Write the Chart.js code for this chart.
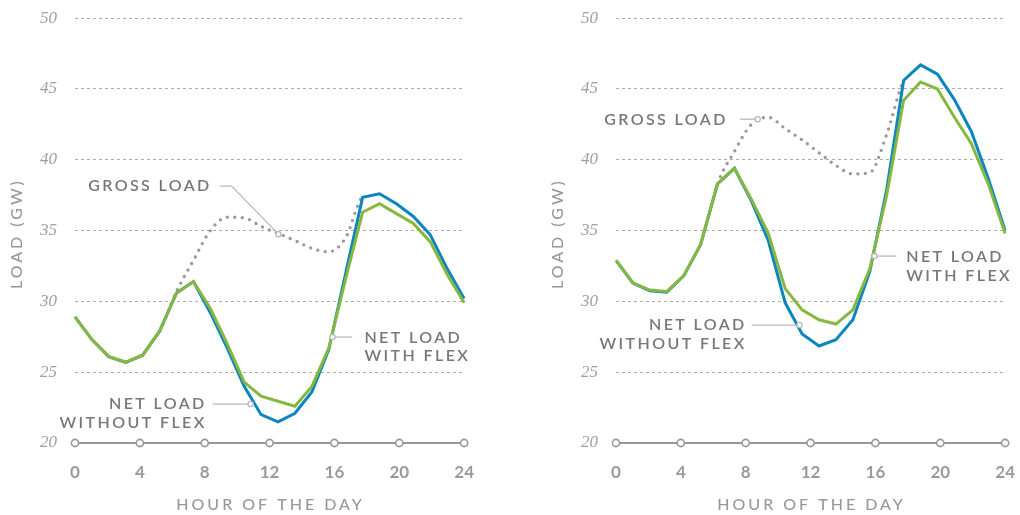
<!DOCTYPE html>
<html>
<head>
<meta charset="utf-8">
<script src="https://cdn.jsdelivr.net/npm/chart.js@4.4.1/dist/chart.umd.min.js"></script>
<style>
  html, body { margin: 0; padding: 0; background: #fff; overflow: hidden; width: 1020px; height: 515px; }
  .box { position: absolute; top: -10px; width: 493px; height: 525px; }
  #boxLeft { left: 0; }
  #boxRight { left: 541px; }
</style>
</head>
<body>
<div class="box" id="boxLeft"><canvas id="chartLeft" width="493" height="525"></canvas></div>
<div class="box" id="boxRight"><canvas id="chartRight" width="493" height="525"></canvas></div>
<script>
// hourly points (24 per day), plotted across the 0-24 axis
const pointLabels = ['1','2','3','4','5','6','7','8','9','10','11','12','13','14','15','16','17','18','19','20','21','22','23','24'];
const hourTicks = [0, 4, 8, 12, 16, 20, 24];
const loadTicks = [20, 25, 30, 35, 40, 45, 50];

// left panel
const leftWithoutFlex = [28.9, 27.3, 26.1, 25.7, 26.2, 27.9, 30.6, 31.4, 29.2, 26.7, 24.0, 22.0, 21.5, 22.1, 23.6, 26.6, 32.0, 37.35, 37.6, 36.9, 36.0, 34.7, 32.3, 30.2];
const leftWithFlex    = [28.9, 27.3, 26.1, 25.7, 26.2, 27.9, 30.6, 31.4, 29.5, 27.0, 24.3, 23.3, 22.95, 22.6, 24.0, 26.7, 31.6, 36.3, 36.9, 36.2, 35.5, 34.2, 31.9, 29.9];
const leftGross       = [28.9, 27.3, 26.1, 25.7, 26.2, 27.9, 30.7, 32.9, 35.0, 35.95, 35.9, 35.3, 34.8, 34.3, 33.75, 33.5, 34.5, 37.35, 37.6, 36.9, 36.0, 34.7, 32.3, 30.2];

// right panel
const rightWithoutFlex = [32.9, 31.3, 30.75, 30.65, 31.8, 34.0, 38.3, 39.4, 37.1, 34.3, 29.9, 27.7, 26.85, 27.3, 28.7, 32.1, 37.9, 45.6, 46.7, 46.05, 44.25, 42.0, 38.7, 35.0];
const rightWithFlex    = [32.9, 31.3, 30.8, 30.7, 31.8, 34.0, 38.3, 39.4, 37.2, 34.8, 30.9, 29.4, 28.7, 28.4, 29.4, 32.3, 37.5, 44.2, 45.5, 45.0, 43.0, 41.15, 38.3, 34.8];
const rightGross       = [32.9, 31.3, 30.8, 30.7, 31.8, 34.0, 38.3, 40.6, 42.5, 43.0, 42.2, 41.4, 40.5, 39.6, 39.0, 39.1, 41.8, 45.6, 46.7, 46.05, 44.25, 42.0, 38.7, 35.0];

const BLUE = '#0b86bf';
const GREEN = '#86b83f';
const GREY_TEXT = '#77777a';
const GREY_AXIS = '#98989b';

// label callouts: text + leader line in (hour, GW)
const leftNotes = [
  { lines: ['GROSS LOAD'], align: 'right', at: [8.43, 38.14], path: [[8.92, 38.14], [9.66, 38.14], [12.55, 34.75]] },
  { lines: ['NET LOAD', 'WITH FLEX'], align: 'left', at: [17.85, 27.45], path: [[17.1, 27.48], [15.88, 27.48]] },
  { lines: ['NET LOAD', 'WITHOUT FLEX'], align: 'right', at: [8.12, 22.75], path: [[8.49, 22.75], [10.83, 22.75]] }
];
const rightNotes = [
  { lines: ['GROSS LOAD'], align: 'right', at: [6.89, 42.8], path: [[7.63, 42.87], [8.74, 42.87]] },
  { lines: ['NET LOAD', 'WITH FLEX'], align: 'left', at: [17.9, 33.13], path: [[17.29, 33.2], [15.94, 33.2]] },
  { lines: ['NET LOAD', 'WITHOUT FLEX'], align: 'right', at: [8.06, 28.33], path: [[8.37, 28.33], [11.32, 28.33]] }
];

const decorPlugin = {
  id: 'decor',
  beforeDatasetsDraw(chart) {
    const ctx = chart.ctx;
    const area = chart.chartArea;
    const xt = chart.scales.xt;
    // solid base line with open circles at the hour ticks
    ctx.save();
    ctx.strokeStyle = GREY_AXIS;
    ctx.lineWidth = 2;
    ctx.beginPath();
    ctx.moveTo(xt.getPixelForValue(hourTicks[0]), area.bottom);
    ctx.lineTo(xt.getPixelForValue(hourTicks[hourTicks.length - 1]), area.bottom);
    ctx.stroke();
    ctx.fillStyle = '#fff';
    ctx.lineWidth = 1.6;
    hourTicks.forEach(h => {
      ctx.beginPath();
      ctx.arc(xt.getPixelForValue(h), area.bottom, 3.6, 0, Math.PI * 2);
      ctx.fill();
      ctx.stroke();
    });
    ctx.restore();
  },
  afterDatasetsDraw(chart, args, opts) {
    const ctx = chart.ctx;
    const area = chart.chartArea;
    const xt = chart.scales.xt;
    const y = chart.scales.y;
    ctx.save();
    ctx.letterSpacing = '2.4px';
    ctx.font = '600 16px Lato, "Open Sans", sans-serif';
    ctx.textBaseline = 'middle';
    (opts.notes || []).forEach(n => {
      const pts = n.path.map(p => [xt.getPixelForValue(p[0]), y.getPixelForValue(p[1])]);
      ctx.strokeStyle = '#b9b9bb';
      ctx.lineWidth = 1.3;
      ctx.beginPath();
      pts.forEach((p, i) => i ? ctx.lineTo(p[0], p[1]) : ctx.moveTo(p[0], p[1]));
      ctx.stroke();
      const end = pts[pts.length - 1];
      ctx.fillStyle = '#fff';
      ctx.beginPath();
      ctx.arc(end[0], end[1], 2.6, 0, Math.PI * 2);
      ctx.fill();
      ctx.stroke();
      ctx.fillStyle = GREY_TEXT;
      ctx.textAlign = n.align;
      const tx = xt.getPixelForValue(n.at[0]);
      const ty = y.getPixelForValue(n.at[1]);
      n.lines.forEach((line, i) => ctx.fillText(line, tx, ty + i * 18.5));
    });
    // axis titles
    ctx.fillStyle = GREY_AXIS;
    ctx.font = '500 16px Lato, "Open Sans", sans-serif';
    ctx.letterSpacing = '3px';
    ctx.textAlign = 'center';
    ctx.fillText('HOUR OF THE DAY', (area.left + area.right) / 2 + 1, area.bottom + 62);
    ctx.translate(17, (area.top + area.bottom) / 2 + 3);
    ctx.rotate(-Math.PI / 2);
    ctx.fillText('LOAD (GW)', 0, 0);
    ctx.restore();
  }
};

function makeChart(canvasId, withoutFlex, withFlex, gross, notes) {
  const ctx = document.getElementById(canvasId).getContext('2d');
  // gross load is only drawn where it differs from the net load lines
  const hidden = i => gross[i] === withoutFlex[i] || gross[i] === withFlex[i];
  return new Chart(ctx, {
    type: 'line',
    data: {
      labels: pointLabels,
      datasets: [
        { label: 'Net load with flex', data: withFlex, borderColor: GREEN, borderWidth: 3, pointRadius: 0, tension: 0, borderJoinStyle: 'miter' },
        { label: 'Net load without flex', data: withoutFlex, borderColor: BLUE, borderWidth: 3, pointRadius: 0, tension: 0, borderJoinStyle: 'miter' },
        {
          label: 'Gross load', data: gross, borderColor: '#9a9a9c', borderWidth: 3.4, borderDash: [0, 7.5], borderCapStyle: 'round',
          pointRadius: 0, cubicInterpolationMode: 'monotone',
          segment: { borderColor: s => hidden(s.p0DataIndex) && hidden(s.p1DataIndex) ? 'rgba(0,0,0,0)' : undefined }
        }
      ]
    },
    options: {
      responsive: false,
      animation: false,
      events: [],
      layout: { padding: { left: 0, top: 8, right: 0, bottom: 0 } },
      plugins: {
        legend: { display: false },
        tooltip: { enabled: false },
        decor: { notes: notes }
      },
      scales: {
        x: { type: 'category', display: false, offset: false },
        xt: {
          type: 'linear',
          position: 'bottom',
          min: 0,
          max: 24,
          afterBuildTicks: scale => { scale.ticks = hourTicks.map(v => ({ value: v })); },
          afterFit: scale => { scale.height = 72; },
          grid: { display: false, drawTicks: false },
          border: { display: false },
          ticks: {
            padding: 19,
            color: '#9a9a9c',
            font: { family: 'Lato, "Open Sans", sans-serif', size: 17, weight: 'bold' }
          }
        },
        y: {
          min: 20,
          max: 50,
          afterBuildTicks: scale => { scale.ticks = loadTicks.map(v => ({ value: v })); },
          afterFit: scale => { scale.width = 75; },
          grid: {
            drawTicks: false,
            color: c => c.tick && c.tick.value === 20 ? 'rgba(0,0,0,0)' : '#ababad',
            lineWidth: 1
          },
          border: { display: false, dash: [3, 3] },
          ticks: {
            padding: 18,
            color: '#a0a0a2',
            font: { family: '"Liberation Serif", "DejaVu Serif", serif', size: 17, style: 'italic' }
          }
        }
      }
    },
    plugins: [decorPlugin]
  });
}

makeChart('chartLeft', leftWithoutFlex, leftWithFlex, leftGross, leftNotes);
makeChart('chartRight', rightWithoutFlex, rightWithFlex, rightGross, rightNotes);
</script>
</body>
</html>
